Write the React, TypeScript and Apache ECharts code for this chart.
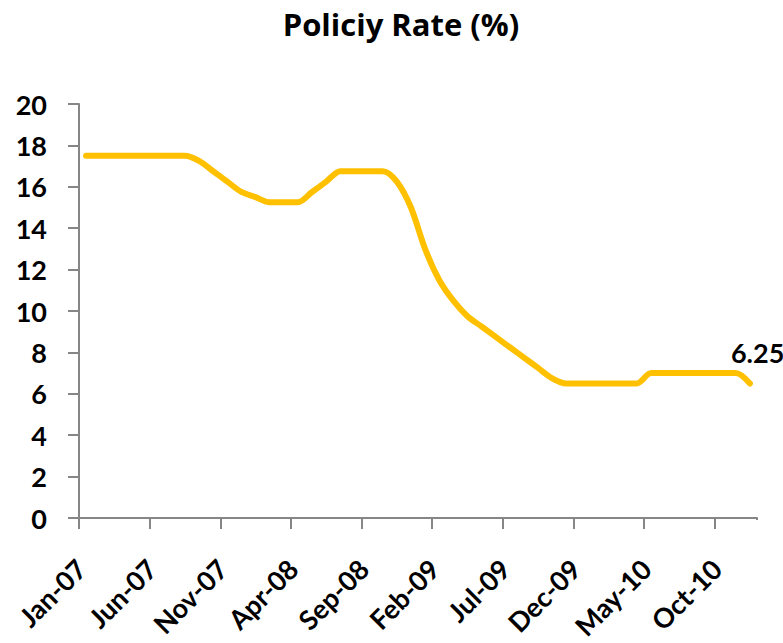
import React, { useEffect, useRef } from "react";
import * as echarts from "echarts";

const titleText = "Policiy Rate (%)";
const monthNames = ["Jan", "Feb", "Mar", "Apr", "May", "Jun", "Jul", "Aug", "Sep", "Oct", "Nov", "Dec"];
const years = ["07", "08", "09", "10"];
const categories: string[] = [];
years.forEach((y) => monthNames.forEach((m) => categories.push(`${m}-${y}`)));

// Policy rate, monthly Jan-07 .. Dec-10
const rates = [
  17.5, 17.5, 17.5, 17.5, 17.5, 17.5, 17.5, 17.5, 17.25, 16.75, 16.25, 15.75,
  15.5, 15.25, 15.25, 15.25, 15.75, 16.25, 16.75, 16.75, 16.75, 16.75, 16.25, 15.0,
  13.0, 11.5, 10.5, 9.75, 9.25, 8.75, 8.25, 7.75, 7.25, 6.75, 6.5, 6.5,
  6.5, 6.5, 6.5, 6.5, 7.0, 7.0, 7.0, 7.0, 7.0, 7.0, 7.0, 6.5,
];
const endLabel = "6.25";

const yMin = 0;
const yMax = 20;
const yStep = 2;

export default function App() {
  const ref = useRef<HTMLDivElement>(null);
  useEffect(() => {
    document.body.style.margin = "0";
    if (!ref.current) return;
    const chart = echarts.init(ref.current, null, { renderer: "svg" });
    const font = "Lato, 'Open Sans', sans-serif";
    chart.setOption({
      animation: false,
      backgroundColor: "#ffffff",
      title: {
        text: titleText,
        left: 396,
        top: 3,
        textAlign: "center",
        textStyle: { fontFamily: "'Open Sans', sans-serif", fontSize: 31, fontWeight: "bold", color: "#000" },
      },
      grid: { left: 79, right: 26, top: 104, bottom: 125, containLabel: false },
      xAxis: {
        type: "category",
        data: categories,
        boundaryGap: true,
        axisLine: { show: true, lineStyle: { color: "#868686", width: 2 } },
        axisTick: { show: true, interval: 4, length: 11, lineStyle: { color: "#868686", width: 2 } },
        axisLabel: {
          interval: 4,
          rotate: 45,
          margin: 41,
          padding: [0, 7, 0, 0],
          fontFamily: font,
          fontSize: 27,
          fontWeight: "bold",
          color: "#000",
        },
        splitLine: { show: false },
      },
      yAxis: {
        type: "value",
        min: yMin,
        max: yMax,
        interval: yStep,
        axisLine: { show: true, lineStyle: { color: "#868686", width: 2 } },
        axisTick: { show: true, length: 11, lineStyle: { color: "#868686", width: 2 } },
        axisLabel: { margin: 32, fontFamily: font, fontSize: 27, fontWeight: "bold", color: "#000" },
        splitLine: { show: false },
      },
      graphic: [
        {
          type: "rect",
          shape: { x: 753, y: 520, width: 10, height: 13 },
          style: { fill: "#ffffff" },
          z: 100,
        },
      ],
      series: [
        {
          type: "line",
          data: rates,
          smooth: 0.3,
          symbol: "none",
          lineStyle: { color: "#FFC000", width: 6, cap: "round", join: "round" },
          itemStyle: { color: "#FFC000" },
          endLabel: {
            show: true,
            formatter: () => endLabel,
            offset: [-27, -31],
            fontFamily: font,
            fontSize: 27,
            fontWeight: "bold",
            color: "#000",
          },
        },
      ],
    });
    return () => chart.dispose();
  }, []);
  return <div ref={ref} style={{ width: 783, height: 643 }} />;
}
